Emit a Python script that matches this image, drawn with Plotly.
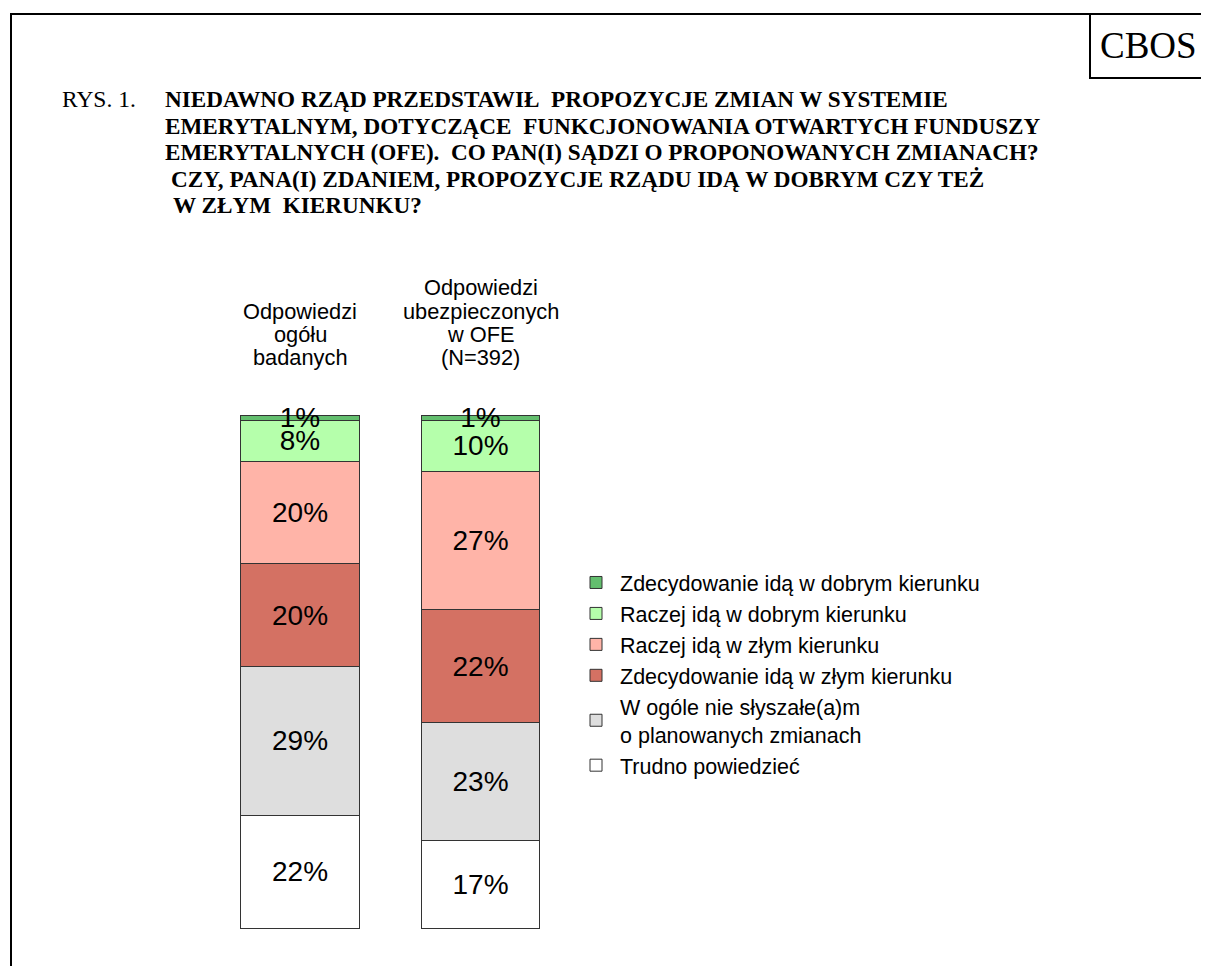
import plotly.graph_objects as go

# page body has an 8px margin, figure is drawn inside it
OFF = 8
W, H = 1201, 958

# data
categories = ['Odpowiedzi ogółu badanych', 'Odpowiedzi ubezpieczonych w OFE (N=392)']
header_lines = [
    ['Odpowiedzi', 'ogółu', 'badanych'],
    ['Odpowiedzi', 'ubezpieczonych', 'w OFE', '(N=392)'],
]
# answer series, bottom of the bar first
series_names = [
    'Trudno powiedzieć',
    'W ogóle nie słyszałe(a)m<br>o planowanych zmianach',
    'Zdecydowanie idą w złym kierunku',
    'Raczej idą w złym kierunku',
    'Raczej idą w dobrym kierunku',
    'Zdecydowanie idą w dobrym kierunku',
]
trudno = [22, 17]
nie_slyszal = [29, 23]
zdec_zle = [20, 22]
raczej_zle = [20, 27]
raczej_dobre = [8, 10]
zdec_dobre = [1, 1]
series_values = [trudno, nie_slyszal, zdec_zle, raczej_zle, raczej_dobre, zdec_dobre]

colors = ['#ffffff', '#dedede', '#d47163', '#ffb4a8', '#b5ffab', '#63be6e']

title_lines = [
    'NIEDAWNO RZĄD PRZEDSTAWIŁ  PROPOZYCJE ZMIAN W SYSTEMIE',
    'EMERYTALNYM, DOTYCZĄCE  FUNKCJONOWANIA OTWARTYCH FUNDUSZY',
    'EMERYTALNYCH (OFE).  CO PAN(I) SĄDZI O PROPONOWANYCH ZMIANACH?',
    'CZY, PANA(I) ZDANIEM, PROPOZYCJE RZĄDU IDĄ W DOBRYM CZY TEŻ',
    'W ZŁYM  KIERUNKU?',
]

SANS = 'Liberation Sans, Arial, sans-serif'
SERIF = 'Liberation Serif, Times New Roman, serif'

PX_PER_PCT = (928 - 415) / 100  # bar height of 100% in page pixels
Y_PAD = 0.4                     # a little room under the bars so the bottom edge shows


def px(x):
    # page pixel -> paper x
    return (x - OFF) / W


def py(y):
    # page pixel -> paper y
    return 1 - (y - OFF) / H


fig = go.Figure()

for name, vals, col in zip(series_names, series_values, colors):
    fig.add_trace(go.Bar(
        x=categories,
        y=vals,
        name=name,
        legendgroup=name,
        width=0.654,
        marker=dict(color=col, line=dict(color='#333333', width=1)),
        text=[f'{v}%' for v in vals],
        textposition='inside',
        insidetextanchor='middle',
        constraintext='none',
        textangle=0,
        textfont=dict(family=SANS, size=28, color='black'),
        cliponaxis=False,
        hoverinfo='skip',
    ))

annotations = []

# title block
annotations.append(dict(
    text='RYS. 1.', xref='paper', yref='paper', x=px(60), y=py(99),
    xanchor='left', yanchor='middle', showarrow=False,
    font=dict(family=SERIF, size=23.5, color='black')
))
title_x = [163, 163, 163, 169, 171]
for i, line in enumerate(title_lines):
    annotations.append(dict(
        text='<b>' + line + '</b>', xref='paper', yref='paper',
        x=px(title_x[i]), y=py(99 + i * 26.5),
        xanchor='left', yanchor='middle', showarrow=False,
        font=dict(family=SERIF, size=23.2, color='black')
    ))

annotations.append(dict(
    text='CBOS', xref='paper', yref='paper', x=px(1148), y=py(45),
    xanchor='center', yanchor='middle', showarrow=False,
    font=dict(family=SERIF, size=37, color='black')
))

# column headers
for cat, lines in zip(categories, header_lines):
    n = len(lines)
    for j, line in enumerate(lines):
        annotations.append(dict(
            text=line, xref='x', yref='paper', x=cat,
            y=py(358 - (n - 1 - j) * 23.5),
            xanchor='center', yanchor='middle', showarrow=False,
            font=dict(family=SANS, size=21.8, color='black')
        ))

shapes = [
    # outer frame (runs off the right and bottom of the page)
    dict(type='rect', xref='paper', yref='paper',
         x0=px(11), x1=px(1260), y0=py(1010), y1=py(14),
         line=dict(color='black', width=2), fillcolor='rgba(0,0,0,0)'),
    # CBOS box
    dict(type='rect', xref='paper', yref='paper',
         x0=px(1090), x1=px(1260), y0=py(78), y1=py(14),
         line=dict(color='black', width=2), fillcolor='rgba(0,0,0,0)'),
]

bottom_px = 928 + Y_PAD * PX_PER_PCT

fig.update_layout(
    width=W,
    height=H,
    autosize=False,
    barmode='stack',
    plot_bgcolor='white',
    paper_bgcolor='white',
    margin=dict(l=0, r=0, t=0, b=0),
    xaxis=dict(
        range=[-(300 - OFF) / 180.5, (W - (300 - OFF)) / 180.5],
        visible=False,
        showgrid=False,
    ),
    yaxis=dict(
        range=[-Y_PAD, 100],
        domain=[(H - (bottom_px - OFF)) / H, (H - (415 - OFF)) / H],
        visible=False,
        showgrid=False,
    ),
    legend=dict(
        x=px(572),
        y=py(562),
        xanchor='left',
        yanchor='top',
        traceorder='reversed',
        font=dict(family=SANS, size=21.5, color='black'),
        bgcolor='rgba(0,0,0,0)',
        tracegroupgap=0,
        itemwidth=38,
    ),
    annotations=annotations,
    shapes=shapes,
    showlegend=True,
)

fig.write_html('out.html')
